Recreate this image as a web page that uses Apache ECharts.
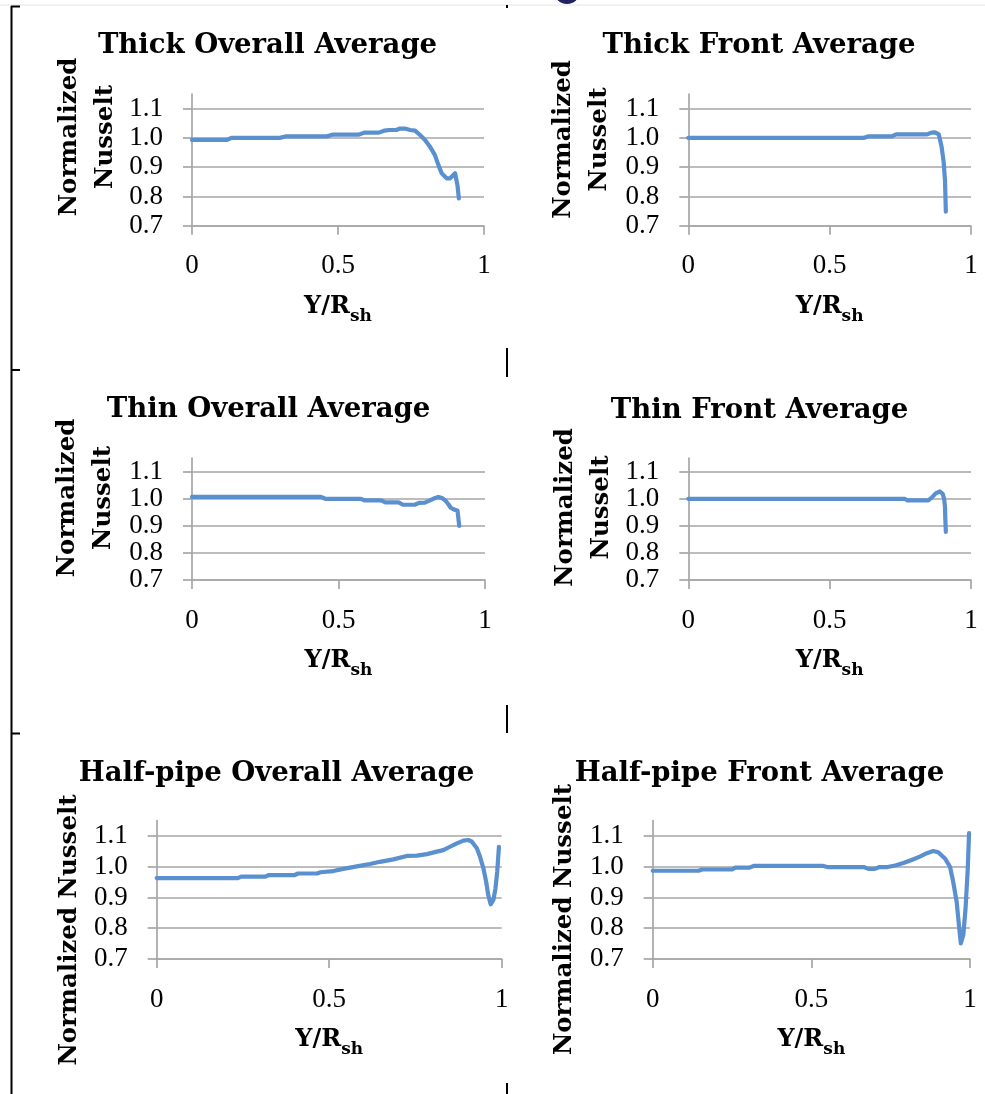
<!DOCTYPE html>
<html>
<head>
<meta charset="utf-8">
<script src="https://cdn.jsdelivr.net/npm/echarts@6/dist/echarts.min.js"></script>
<style>
  html, body { margin: 0; padding: 0; background: #ffffff; }
  #chart { width: 985px; height: 1094px; }
</style>
</head>
<body>
<div id="chart"></div>
<script>
// Normalized Nusselt number profiles along Y/R_sh

const thickOverallX = [0, 0.12, 0.135, 0.30, 0.32, 0.46, 0.48, 0.57, 0.59, 0.64, 0.66, 0.675, 0.70, 0.712, 0.729, 0.747, 0.764, 0.781, 0.798, 0.815, 0.832, 0.844, 0.855, 0.872, 0.884, 0.901, 0.906, 0.909, 0.914];
const thickOverallY = [0.993, 0.993, 1.0, 1.0, 1.005, 1.005, 1.011, 1.011, 1.018, 1.018, 1.025, 1.027, 1.027, 1.032, 1.032, 1.027, 1.025, 1.01, 0.993, 0.97, 0.941, 0.907, 0.879, 0.862, 0.862, 0.879, 0.873, 0.839, 0.793];

const thickFrontX = [0, 0.62, 0.635, 0.72, 0.735, 0.845, 0.86, 0.873, 0.886, 0.896, 0.903, 0.908, 0.911];
const thickFrontY = [1.0, 1.0, 1.005, 1.005, 1.012, 1.012, 1.018, 1.019, 1.012, 0.97, 0.92, 0.856, 0.748];

const thinOverallX = [0, 0.44, 0.455, 0.575, 0.59, 0.645, 0.66, 0.705, 0.72, 0.76, 0.775, 0.795, 0.81, 0.83, 0.841, 0.853, 0.865, 0.875, 0.883, 0.895, 0.906, 0.909, 0.912];
const thinOverallY = [1.007, 1.007, 1.0, 1.0, 0.994, 0.994, 0.987, 0.987, 0.978, 0.978, 0.985, 0.986, 0.993, 1.003, 1.007, 1.003, 0.994, 0.98, 0.967, 0.96, 0.957, 0.93, 0.9];

const thinFrontX = [0, 0.765, 0.775, 0.849, 0.862, 0.875, 0.89, 0.9, 0.905, 0.908, 0.909, 0.911];
const thinFrontY = [1.0, 1.0, 0.994, 0.994, 1.005, 1.02, 1.027, 1.018, 1.0, 0.97, 0.93, 0.878];

const halfPipeOverallX = [0, 0.235, 0.245, 0.315, 0.325, 0.40, 0.41, 0.465, 0.475, 0.512, 0.541, 0.584, 0.618, 0.647, 0.686, 0.725, 0.754, 0.783, 0.812, 0.831, 0.85, 0.87, 0.889, 0.903, 0.913, 0.928, 0.937, 0.947, 0.955, 0.961, 0.968, 0.976, 0.982, 0.987, 0.992];
const halfPipeOverallY = [0.963, 0.963, 0.968, 0.968, 0.973, 0.973, 0.978, 0.978, 0.982, 0.986, 0.993, 1.002, 1.009, 1.016, 1.024, 1.035, 1.036, 1.041, 1.049, 1.054, 1.065, 1.076, 1.085, 1.087, 1.082, 1.06, 1.033, 0.995, 0.951, 0.908, 0.878, 0.892, 0.93, 0.984, 1.065];

const halfPipeFrontX = [0, 0.145, 0.155, 0.25, 0.26, 0.305, 0.32, 0.535, 0.55, 0.665, 0.68, 0.70, 0.715, 0.74, 0.764, 0.79, 0.816, 0.842, 0.864, 0.884, 0.9, 0.921, 0.937, 0.947, 0.958, 0.965, 0.971, 0.979, 0.986, 0.993, 0.997];
const halfPipeFrontY = [0.987, 0.987, 0.991, 0.991, 0.997, 0.997, 1.003, 1.003, 0.999, 0.999, 0.993, 0.993, 0.999, 0.999, 1.004, 1.012, 1.022, 1.033, 1.044, 1.051, 1.047, 1.027, 1.0, 0.951, 0.886, 0.811, 0.751, 0.778, 0.865, 0.995, 1.109];

const panelTitles = ['Thick Overall Average', 'Thick Front Average', 'Thin Overall Average', 'Thin Front Average', 'Half-pipe Overall Average', 'Half-pipe Front Average'];
const yAxisTitles = ['Normalized\nNusselt', 'Normalized\nNusselt', 'Normalized\nNusselt', 'Normalized\nNusselt', 'Normalized Nusselt', 'Normalized Nusselt'];
const xTicks = [0, 0.5, 1];
const yTicks = [0.7, 0.8, 0.9, 1.0, 1.1];
const yMin = 0.7;
const yMax = 1.15;

const seriesX = [thickOverallX, thickFrontX, thinOverallX, thinFrontX, halfPipeOverallX, halfPipeFrontX];
const seriesY = [thickOverallY, thickFrontY, thinOverallY, thinFrontY, halfPipeOverallY, halfPipeFrontY];

// plot rectangles, title anchors and rotated axis-title anchors for the 3x2 layout
const grids = [
  { left: 192,   top: 94,    width: 292,   height: 131.7 },
  { left: 688.3, top: 94,    width: 282.7, height: 131.7 },
  { left: 192,   top: 458.2, width: 293,   height: 121.8 },
  { left: 688.3, top: 458.2, width: 282.7, height: 121.8 },
  { left: 156.7, top: 820.6, width: 345,   height: 138.4 },
  { left: 652.7, top: 820.6, width: 317.3, height: 138.4 }
];
const titleAnchors = [[267.5, 31.5], [759, 31.5], [268.5, 396], [759.5, 397], [276.5, 760], [759.5, 759.5]];
const yTitleAnchors = [[88, 137], [581.5, 139.5], [86, 498], [583.7, 507.5], [70, 930], [564.5, 919.5]];

const FONT = 'DejaVu Serif';
const TICK_FONT = 'Liberation Serif';
const GRID_GRAY = '#a6a6a6';
const LINE_BLUE = '#5a8fd0';

const option = {
  animation: false,
  backgroundColor: '#ffffff',
  title: panelTitles.map((t, i) => ({
    text: t,
    left: titleAnchors[i][0],
    top: titleAnchors[i][1],
    textAlign: 'center',
    padding: 0,
    textStyle: { fontFamily: FONT, fontWeight: 'bold', fontSize: 27.5, color: '#000000' }
  })),
  grid: grids.map(g => Object.assign({ outerBoundsMode: 'none', containLabel: false }, g)),
  xAxis: grids.map((g, i) => ({
    type: 'value',
    gridIndex: i,
    min: 0,
    max: 1,
    interval: 0.5,
    name: '{m|Y/R}{s|sh}',
    nameLocation: 'middle',
    nameGap: 69,
    nameTextStyle: {
      rich: {
        m: { fontFamily: FONT, fontWeight: 'bold', fontSize: 24, lineHeight: 24, color: '#000', verticalAlign: 'top' },
        s: { fontFamily: FONT, fontWeight: 'bold', fontSize: 17, lineHeight: 17, color: '#000', verticalAlign: 'top', padding: [13, 0, 0, 0] }
      }
    },
    axisLine: { show: true, onZero: false, lineStyle: { color: GRID_GRAY, width: 1.7 } },
    axisTick: { show: true, inside: false, length: 9, customValues: xTicks, lineStyle: { color: GRID_GRAY, width: 1.7 } },
    axisLabel: {
      margin: 27,
      customValues: xTicks,
      showMinLabel: true,
      showMaxLabel: true,
      hideOverlap: false,
      fontFamily: TICK_FONT, fontSize: 27, lineHeight: 27, color: '#000',
      formatter: v => String(v)
    },
    splitLine: { show: false }
  })),
  yAxis: grids.map((g, i) => ({
    type: 'value',
    gridIndex: i,
    min: yMin,
    max: yMax,
    interval: 0.1,
    axisLine: { show: true, onZero: false, lineStyle: { color: GRID_GRAY, width: 1.7 } },
    axisTick: { show: true, inside: false, length: 9, customValues: yTicks, lineStyle: { color: GRID_GRAY, width: 1.7 } },
    axisLabel: {
      margin: 29,
      customValues: yTicks,
      showMinLabel: true,
      showMaxLabel: true,
      hideOverlap: false,
      fontFamily: TICK_FONT, fontSize: 27, lineHeight: 24, color: '#000',
      formatter: v => v.toFixed(1)
    },
    splitLine: { show: true, lineStyle: { color: GRID_GRAY, width: 1.7 } }
  })),
  series: seriesX.map((xs, i) => ({
    type: 'line',
    name: panelTitles[i],
    xAxisIndex: i,
    yAxisIndex: i,
    showSymbol: false,
    symbol: 'none',
    silent: true,
    lineStyle: { color: LINE_BLUE, width: 4.2, cap: 'round', join: 'round' },
    data: xs.map((x, k) => [x, seriesY[i][k]])
  })),
  graphic: [
    // rotated y-axis titles
    ...yAxisTitles.map((t, i) => ({
      type: 'text',
      x: yTitleAnchors[i][0],
      y: yTitleAnchors[i][1],
      rotation: Math.PI / 2,
      style: {
        text: t,
        align: 'center',
        verticalAlign: 'middle',
        lineHeight: 36,
        font: 'bold 24.5px "DejaVu Serif"',
        fill: '#000'
      }
    })),
    // page frame fragments around the panels
    { type: 'line', shape: { x1: 0, y1: 5, x2: 985, y2: 5 }, style: { stroke: '#e4e4e4', lineWidth: 1 } },
    { type: 'line', shape: { x1: 11.5, y1: 6, x2: 11.5, y2: 1094 }, style: { stroke: '#000', lineWidth: 2 } },
    { type: 'line', shape: { x1: 11, y1: 6.5, x2: 20, y2: 6.5 }, style: { stroke: '#000', lineWidth: 2 } },
    { type: 'line', shape: { x1: 11, y1: 370, x2: 20, y2: 370 }, style: { stroke: '#000', lineWidth: 2 } },
    { type: 'line', shape: { x1: 11, y1: 733.5, x2: 20, y2: 733.5 }, style: { stroke: '#000', lineWidth: 2 } },
    { type: 'line', shape: { x1: 507, y1: 5, x2: 507, y2: 8 }, style: { stroke: '#000', lineWidth: 2 } },
    { type: 'line', shape: { x1: 507, y1: 348, x2: 507, y2: 377 }, style: { stroke: '#000', lineWidth: 2 } },
    { type: 'line', shape: { x1: 507, y1: 705, x2: 507, y2: 733 }, style: { stroke: '#000', lineWidth: 2 } },
    { type: 'line', shape: { x1: 507, y1: 1083, x2: 507, y2: 1094 }, style: { stroke: '#000', lineWidth: 2 } },
    { type: 'circle', shape: { cx: 567, cy: -9, r: 13 }, style: { fill: '#1f2360' } }
  ]
};

const chart = echarts.init(document.getElementById('chart'), null, { renderer: 'canvas' });
chart.setOption(option);
</script>
</body>
</html>
